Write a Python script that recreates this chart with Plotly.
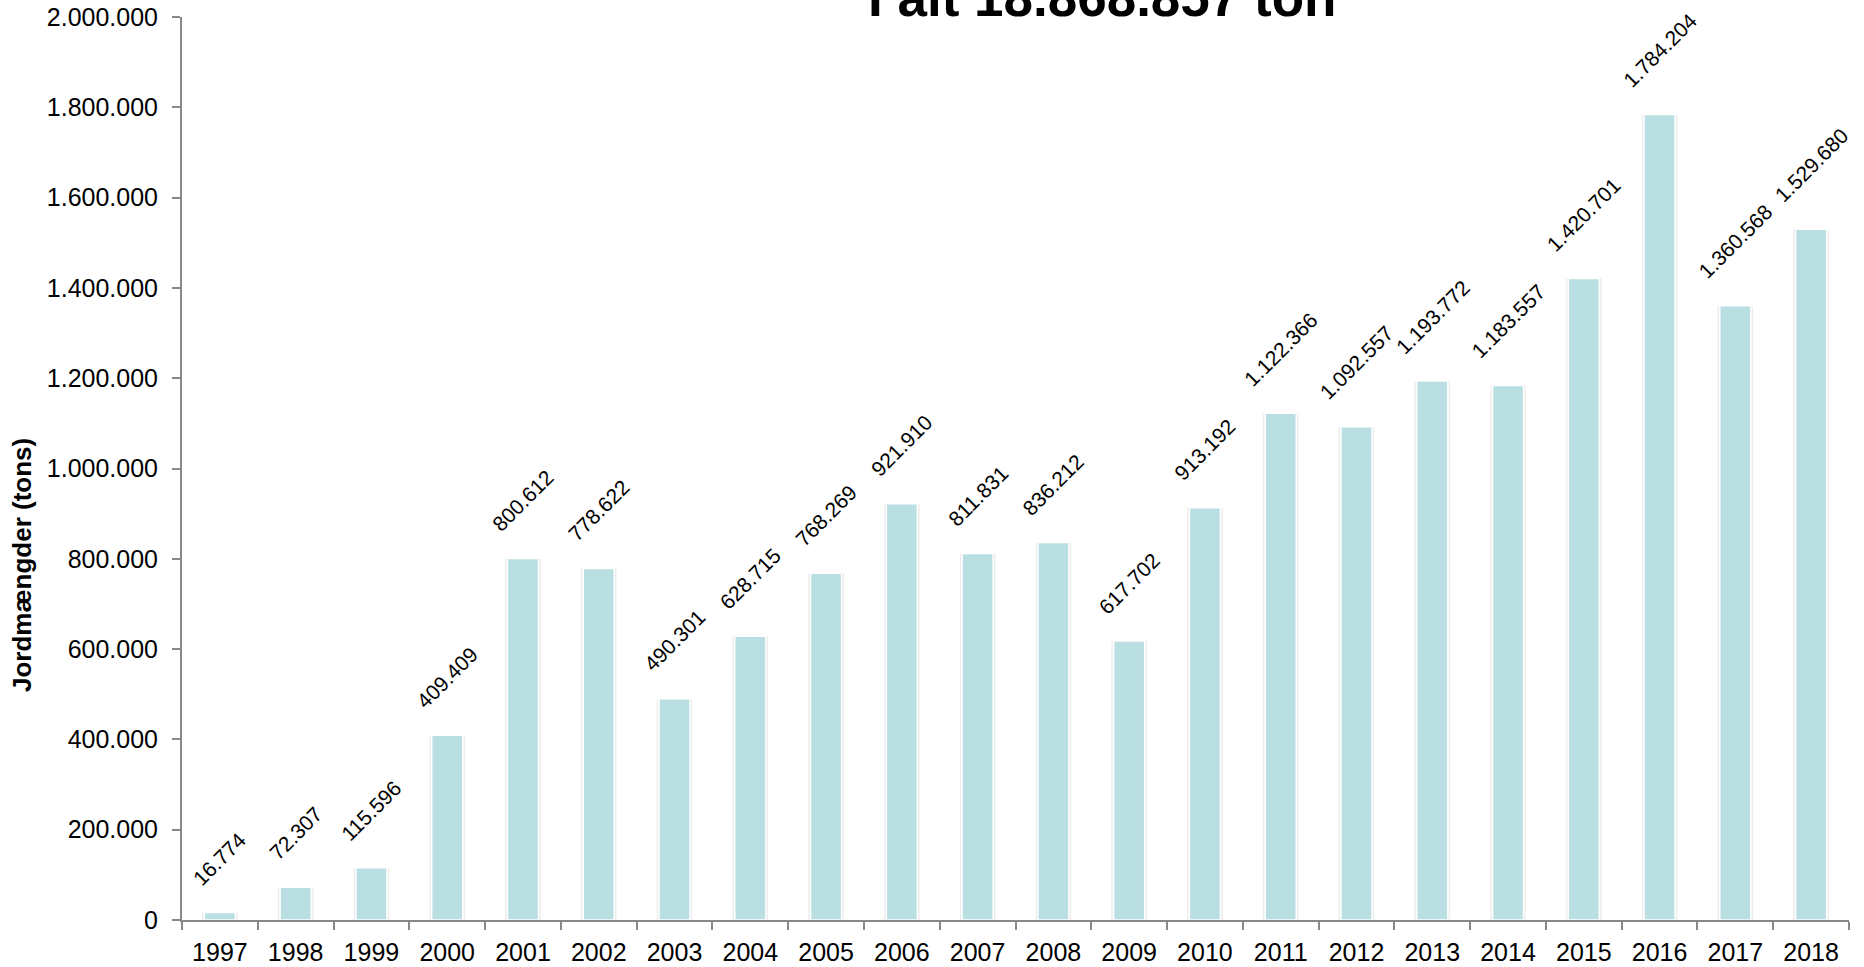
import plotly.graph_objects as go

years = [str(y) for y in range(1997, 2019)]
tons = [16774, 72307, 115596, 409409, 800612, 778622, 490301, 628715, 768269,
        921910, 811831, 836212, 617702, 913192, 1122366, 1092557, 1193772,
        1183557, 1420701, 1784204, 1360568, 1529680]
title_text = "I alt 18.868.857 ton"
y_title = "Jordmængder (tons)"

FONT = "Liberation Sans, Arial, sans-serif"


def fmt(v):
    return f"{v:,}".replace(",", ".")


fig = go.Figure()
# soft shadow behind bars
fig.add_trace(go.Bar(
    x=years, y=tons, width=0.47,
    marker=dict(color="rgba(0,0,0,0.07)", line=dict(width=0)),
    hoverinfo="skip",
))
fig.add_trace(go.Bar(
    x=years, y=tons, width=0.41,
    marker=dict(color="#B9DFE3", line=dict(color="white", width=1.5)),
    hoverinfo="x+y",
))

annotations = []
for i, v in enumerate(tons):
    annotations.append(dict(
        x=i, y=v, xref="x", yref="y", text=fmt(v), showarrow=False,
        textangle=-45, xanchor="center", yanchor="bottom", yshift=20,
        font=dict(family=FONT, size=21, color="black"),
    ))

annotations.append(dict(
    x=(1102 - 182) / 1667, y=1, xref="paper", yref="paper",
    text="<b>" + title_text + "</b>",
    showarrow=False, xanchor="center", yanchor="bottom", yshift=-12,
    font=dict(family=FONT, size=53, color="black"),
))
annotations.append(dict(
    x=-(182 - 22) / 1667, y=(920 - 565) / 903, xref="paper", yref="paper",
    text="<b>" + y_title + "</b>",
    showarrow=False, textangle=-90, xanchor="center", yanchor="middle",
    font=dict(family=FONT, size=26, color="black"),
))

fig.update_layout(
    width=1864, height=967,
    margin=dict(l=182, r=15, t=17, b=47),
    paper_bgcolor="white", plot_bgcolor="white",
    separators=",.",
    barmode="overlay",
    showlegend=False,
    font=dict(family=FONT, size=25, color="black"),
    annotations=annotations,
)
fig.update_xaxes(
    type="category", range=[-0.5, len(years) - 0.5], tickson="boundaries",
    ticks="outside", ticklen=8, tickangle=0, automargin=False,
    tickcolor="#888888", tickwidth=2, showline=True, linecolor="#888888", linewidth=2,
    showgrid=False, tickfont=dict(size=25, family=FONT, color="black"),
    ticklabelstandoff=9,
)
fig.update_yaxes(
    range=[0, 2000000], dtick=200000, tickformat=",d", ticks="outside",
    ticklen=8, tickcolor="#888888", tickwidth=2, showline=True, linecolor="#888888",
    linewidth=2, showgrid=False, zeroline=False, automargin=False,
    tickfont=dict(size=25, family=FONT, color="black"), ticklabelstandoff=9,
)

fig.write_html("out.html", config={"displayModeBar": False},
               post_script="document.body.style.margin='0';")
